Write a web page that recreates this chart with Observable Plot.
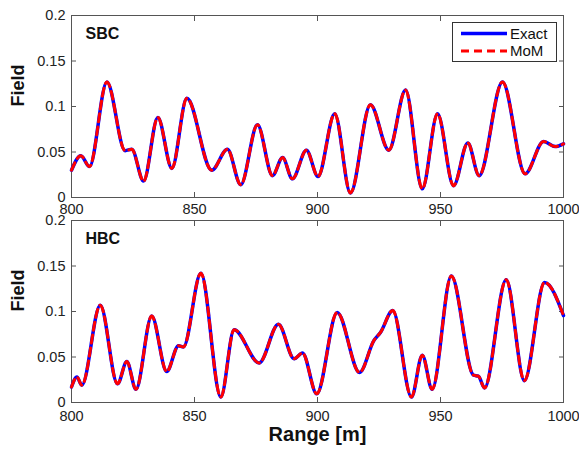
<!DOCTYPE html>
<html><head><meta charset="utf-8">
<script src="https://cdn.jsdelivr.net/npm/d3@7"></script>
<script src="https://cdn.jsdelivr.net/npm/@observablehq/plot@0.6"></script>
<style>
body{margin:0;background:#fff;}
#wrap{position:relative;width:579px;height:449px;font-family:"Liberation Sans",Arial,sans-serif;}
#wrap svg{position:absolute;left:0;overflow:visible;}
</style></head><body><div id="wrap"></div>
<script>
const xTicks = [800, 850, 900, 950, 1000];
const yTicks = [0, 0.05, 0.1, 0.15, 0.2];
const seriesNames = ["Exact", "MoM"];
const panelNames = ["SBC", "HBC"];
const xLabel = "Range [m]";
const yLabel = "Field";

const sbcRange = [800, 803.8, 807.3, 814.4, 821.8, 824.5, 829.3, 835.1, 840.8, 846.9, 857, 863.4, 868.8, 875.6, 881.7, 885.8, 889.8, 895.5, 900.2, 907, 913.4, 921.5, 929, 935.8, 942.6, 948.8, 955.3, 961.1, 965.7, 975.2, 984.4, 991.9, 996.6, 1000];
const sbcField = [0.030, 0.046, 0.034, 0.127, 0.0515, 0.053, 0.018, 0.088, 0.032, 0.109, 0.030, 0.053, 0.014, 0.080, 0.024, 0.044, 0.0205, 0.052, 0.023, 0.092, 0.005, 0.102, 0.052, 0.118, 0.0095, 0.092, 0.013, 0.060, 0.024, 0.127, 0.026, 0.0615, 0.056, 0.059];

const hbcRange = [800, 802.2, 804.2, 811.7, 818.7, 822.5, 826.2, 832.6, 838.7, 843.5, 845.5, 852.6, 860.7, 866.1, 876.3, 884.1, 890.5, 893.9, 899.7, 908, 917.1, 922.9, 925.6, 930.6, 938.2, 942.6, 946.6, 954.4, 963.4, 965.4, 967.9, 976.7, 984.1, 992.3, 1000];
const hbcField = [0.017, 0.028, 0.019, 0.107, 0.0205, 0.045, 0.0145, 0.095, 0.034, 0.0625, 0.061, 0.142, 0.006, 0.080, 0.0435, 0.086, 0.048, 0.0545, 0.0095, 0.099, 0.033, 0.068, 0.077, 0.101, 0.006, 0.052, 0.0145, 0.139, 0.030, 0.029, 0.016, 0.135, 0.024, 0.132, 0.0956];

const FONT = "Liberation Sans, Arial, sans-serif";
const AX = "#555";

function panel(name, xs, ys, opts) {
  const data = xs.map((x, i) => ({range: x, field: ys[i]}));
  const marks = [
    Plot.frame({stroke: AX}),
    Plot.axisY({anchor: "left", ticks: yTicks, tickSize: -5, tickPadding: 11, tickFormat: d => String(d), stroke: AX, label: null}),
    Plot.axisY({anchor: "right", ticks: yTicks, tickSize: -5, tickFormat: () => "", stroke: AX, label: null}),
    Plot.axisX({anchor: "bottom", ticks: xTicks, tickSize: -5, tickPadding: opts.xPad, tickFormat: d => String(d), stroke: AX, label: null}),
    Plot.axisX({anchor: "top", ticks: xTicks, tickSize: -5, tickFormat: () => "", stroke: AX, label: null}),
    Plot.line(data, {x: "range", y: "field", stroke: "#0000ff", strokeWidth: 3.5, curve: "monotone-x"}),
    Plot.line(data, {x: "range", y: "field", stroke: "#ff0000", strokeWidth: 3, strokeDasharray: "8,5", curve: "monotone-x"}),
    Plot.text([name], {frameAnchor: "top-left", dx: 14, dy: 12, lineAnchor: "top", textAnchor: "start", text: d => d, fontWeight: "bold", fontSize: 16, fill: "#111"}),
    Plot.text([yLabel], {frameAnchor: "left", dx: -53, rotate: -90, text: d => d, fontWeight: "bold", fontSize: 18, fill: "#111"})
  ];
  if (opts.xLabel) {
    marks.push(Plot.text([xLabel], {frameAnchor: "bottom", dy: 38, lineAnchor: "bottom", text: d => d, fontWeight: "bold", fontSize: 20, fill: "#111"}));
  }
  const svg = Plot.plot({
    width: 579, height: opts.height,
    marginLeft: 71, marginRight: 16, marginTop: opts.marginTop, marginBottom: opts.marginBottom,
    style: {fontFamily: FONT, fontSize: "14.5px", color: "#222", background: "none", overflow: "visible"},
    x: {domain: [800, 1000], label: null},
    y: {domain: [0, 0.2], label: null},
    marks
  });
  svg.style.top = opts.top + "px";
  return svg;
}

const wrap = document.getElementById("wrap");
const top1 = panel(panelNames[0], sbcRange, sbcField, {top: 0, height: 215, marginTop: 15, marginBottom: 18, xPad: 11});
const bot1 = panel(panelNames[1], hbcRange, hbcField, {top: 205, height: 244, marginTop: 15, marginBottom: 47, xPad: 13, xLabel: true});
wrap.appendChild(bot1);
wrap.appendChild(top1);

// legend inside the top panel
const lg = d3.select(top1).append("g").attr("font-family", FONT).attr("font-size", 15).attr("fill", "#111").attr("text-anchor", "start");
lg.append("rect").attr("x", 452.5).attr("y", 22.5).attr("width", 104).attr("height", 39).attr("fill", "#fff").attr("stroke", "#333");
const styles = [{stroke: "#0000ff", w: 3.5, dash: null}, {stroke: "#ff0000", w: 3, dash: "8,5"}];
seriesNames.forEach((s, i) => {
  const y = 33.5 + i * 17.5;
  lg.append("line").attr("x1", 461).attr("x2", 507).attr("y1", y).attr("y2", y)
    .attr("stroke", styles[i].stroke).attr("stroke-width", styles[i].w).attr("stroke-dasharray", styles[i].dash);
  lg.append("text").attr("x", 510).attr("y", y + 5).attr("text-anchor", "start").text(s);
});
</script></body></html>
